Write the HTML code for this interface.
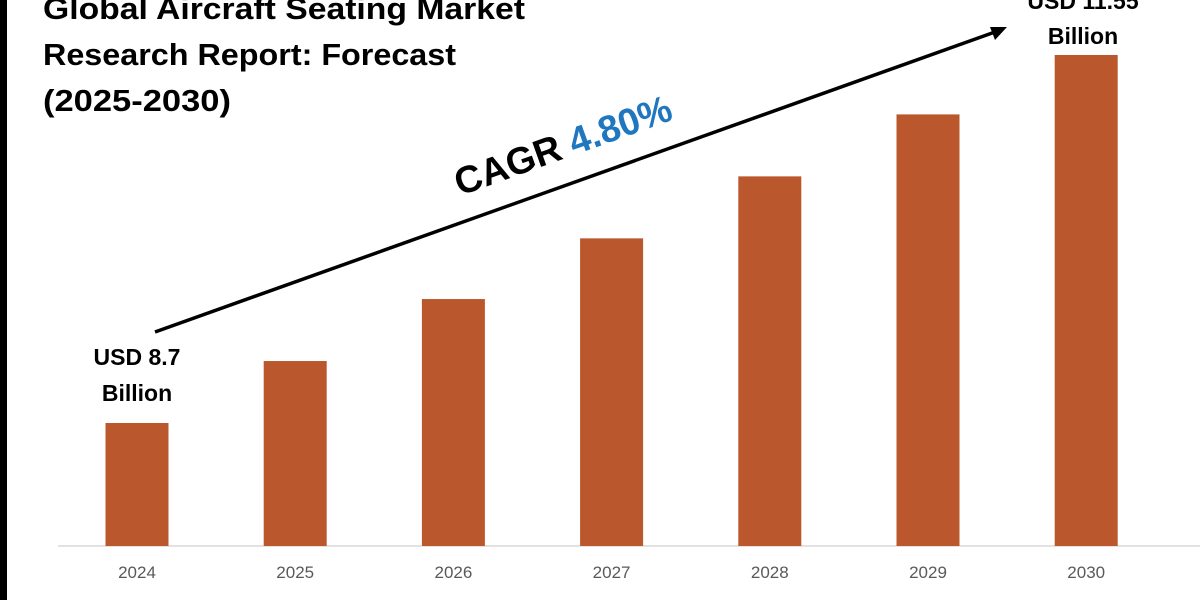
<!DOCTYPE html>
<html><head><meta charset="utf-8"><style>
html,body{margin:0;padding:0;background:#fff;}
svg{display:block;font-family:"Liberation Sans",sans-serif;}
</style></head><body>
<svg id="chart" width="1200" height="600" viewBox="0 0 1200 600">
<rect x="0" y="0" width="7" height="600" fill="#000"/>
<g font-weight="bold" font-size="31" fill="#000">
<text x="43" y="19" textLength="482" lengthAdjust="spacingAndGlyphs">Global Aircraft Seating Market</text>
<text x="43" y="65" textLength="413" lengthAdjust="spacingAndGlyphs">Research Report: Forecast</text>
<text x="43" y="111" textLength="188" lengthAdjust="spacingAndGlyphs">(2025-2030)</text>
</g>
<line x1="58" y1="546" x2="1200" y2="546" stroke="#d9d9d9" stroke-width="1.5"/>
<g id="bars"></g>
<g id="xlabels"></g>
<line x1="155" y1="332" x2="995" y2="32" stroke="#000" stroke-width="3.5"/>
<polygon points="1007,27 990,27 995,40" fill="#000"/>
<text transform="translate(460,196) rotate(-19.7)" font-size="38" font-weight="bold" textLength="228" lengthAdjust="spacingAndGlyphs"><tspan fill="#000">CAGR </tspan><tspan fill="#1f77c0">4.80%</tspan></text>
<g font-size="23" font-weight="bold" text-anchor="middle" fill="#000">
<text x="137" y="365">USD 8.7</text><text x="137" y="401">Billion</text>
</g>
<g font-size="23" font-weight="bold" text-anchor="middle" fill="#000">
<text x="1083" y="9">USD 11.55</text><text x="1083" y="44">Billion</text>
</g>
</svg>
<script>
const categories = ["2024","2025","2026","2027","2028","2029","2030"];
const values = [8.7, 9.18, 9.66, 10.13, 10.61, 11.09, 11.55];
const NS = "http://www.w3.org/2000/svg";
const baseY = 546, x0 = 137, step = 158.2, bw = 63;
function xScale(i){ return x0 + i*step; }
function yScale(v){ return baseY - (123 + (v - 8.7) * (368/2.85)); }
const gb = document.getElementById("bars"), gl = document.getElementById("xlabels");
categories.forEach((c,i)=>{
  const r = document.createElementNS(NS,"rect");
  const y = yScale(values[i]);
  r.setAttribute("x", xScale(i)-bw/2); r.setAttribute("y", y);
  r.setAttribute("width", bw); r.setAttribute("height", baseY - y);
  r.setAttribute("fill", "#bb572c");
  
  
  gb.appendChild(r);
  const t = document.createElementNS(NS,"text");
  t.setAttribute("x", xScale(i)); t.setAttribute("y", 578);
  t.setAttribute("text-anchor","middle"); t.setAttribute("font-size","17"); t.setAttribute("fill","#595959");
  t.textContent = c;
  
  
  gl.appendChild(t);
});
</script>
</body></html>
